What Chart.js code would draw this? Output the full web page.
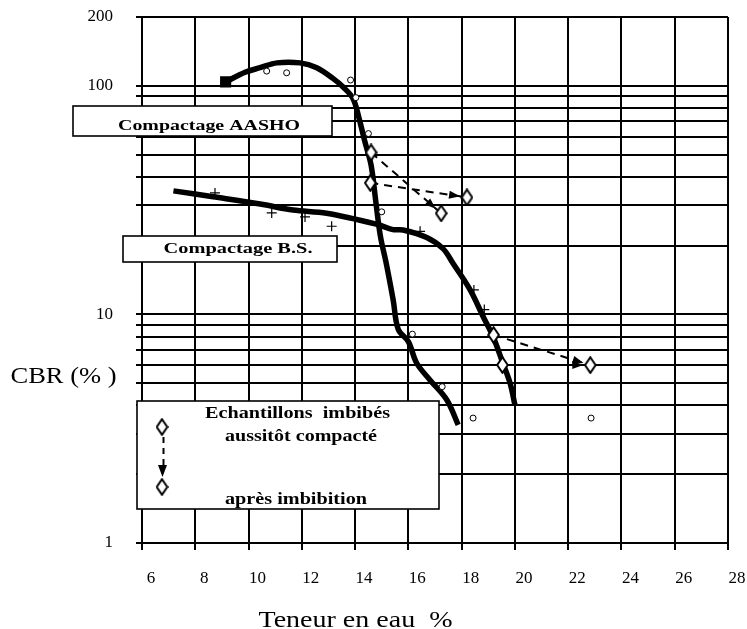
<!DOCTYPE html>
<html><head><meta charset="utf-8">
<script src="https://cdn.jsdelivr.net/npm/chart.js@4.4.1/dist/chart.umd.min.js"></script>
<style>html,body{margin:0;padding:0;background:#fff}#wrap{width:747px;height:629px;position:relative}</style>
</head><body><div id="wrap"><canvas id="c" width="747" height="629"></canvas></div>
<script>
// ---------- data ----------
const xTickValues = [6, 8, 10, 12, 14, 16, 18, 20, 22, 24, 26, 28];
const yTickValues = [1, 2, 3, 4, 5, 6, 7, 8, 9, 10, 20, 30, 40, 50, 60, 70, 80, 90, 100, 200];
const yTickLabels = [1, 10, 100, 200];

// Compactage AASHO : fitted curve
const aashoW   = [9.14, 9.87, 10.43, 11.07, 11.93, 12.56, 13.18, 13.55, 13.92, 14.15, 14.35, 14.6, 14.78, 14.95, 15.18, 15.43, 15.62, 16.0, 16.31, 16.81, 17.44, 17.87];
const aashoCBR = [104, 114.6, 120, 126, 126, 120, 107.5, 98.8, 88, 72, 58, 45, 31, 22, 16.5, 11.56, 8.6, 7.6, 6.13, 5.17, 4.23, 3.29];
// Compactage AASHO : measured points (circles)
const aashoPtW   = [10.68, 11.43, 13.83, 14.03, 14.5, 15.0, 16.15, 17.27, 18.43, 22.86];
const aashoPtCBR = [116, 114, 106, 88.8, 61.8, 28.1, 8.2, 4.83, 3.52, 3.52];

// Compactage B.S. : fitted curve
const bsW   = [7.18, 8.67, 10.44, 11.67, 12.93, 14.81, 15.42, 15.80, 16.69, 17.30, 17.68, 18.32, 18.81, 19.18, 19.55, 19.82, 20.0];
const bsCBR = [34.7, 32.7, 30.4, 28.6, 27.7, 24.8, 23.5, 23.4, 21.7, 19.4, 16.7, 12.8, 9.77, 8.0, 6.11, 5.0, 4.02];
// Compactage B.S. : measured points (crosses)
const bsPtW   = [8.74, 10.87, 12.12, 13.12, 16.44, 18.46, 18.85];
const bsPtCBR = [34.0, 27.8, 26.7, 24.3, 23.1, 12.8, 10.5];

// Echantillons imbibés : aussitôt compacté / après imbibition
const imbBeforeW   = [14.6, 14.57, 19.2, 19.53];
const imbBeforeCBR = [51.1, 37.6, 8.13, 6.01];
const imbAfterW    = [17.23, 18.2, 22.83];
const imbAfterCBR  = [27.7, 32.5, 6.0];
// arrows: [index in "before", index in "after"]
const arrowPairs = [[0, 0], [1, 1], [2, 2], [3, 2]];

// ---------- helpers ----------
const zip = (xs, ys) => xs.map((x, i) => ({x: x, y: ys[i]}));

function makeDiamond() {
  const c = document.createElement('canvas');
  c.width = 13; c.height = 18;
  const g = c.getContext('2d');
  g.beginPath();
  g.moveTo(6.5, 1.2); g.lineTo(11.8, 9); g.lineTo(6.5, 16.8); g.lineTo(1.2, 9); g.closePath();
  g.fillStyle = '#fff'; g.fill();
  g.lineWidth = 2; g.strokeStyle = '#000'; g.stroke();
  return c;
}
const diamond = makeDiamond();

function stretchText(ctx, text, cx, baseline, font, targetW) {
  ctx.save();
  ctx.font = font;
  const w = ctx.measureText(text).width;
  ctx.translate(cx, baseline);
  ctx.scale(targetW / w, 1);
  ctx.textAlign = 'center';
  ctx.textBaseline = 'alphabetic';
  ctx.fillStyle = '#000';
  ctx.fillText(text, 0, 0);
  ctx.restore();
}
function box(ctx, x0, y0, x1, y1) {
  ctx.save();
  ctx.fillStyle = '#fff';
  ctx.fillRect(x0, y0, x1 - x0, y1 - y0);
  ctx.lineWidth = 1.6;
  ctx.strokeStyle = '#000';
  ctx.strokeRect(x0, y0, x1 - x0, y1 - y0);
  ctx.restore();
}
function arrowHead(ctx, tx, ty, dx, dy, len, half) {
  const L = Math.hypot(dx, dy); const ux = dx / L, uy = dy / L;
  ctx.beginPath();
  ctx.moveTo(tx, ty);
  ctx.lineTo(tx - ux * len - uy * half, ty - uy * len + ux * half);
  ctx.lineTo(tx - ux * len + uy * half, ty - uy * len - ux * half);
  ctx.closePath();
  ctx.fillStyle = '#000';
  ctx.fill();
}

const serif = "'Liberation Serif', 'Times New Roman', serif";

const annotations = {
  id: 'annotations',
  afterDatasetsDraw(chart) {
    const ctx = chart.ctx;
    const xs = chart.scales.x, ys = chart.scales.y;
    // arrowheads of dashed arrows
    arrowPairs.forEach(([a, b]) => {
      const x1 = xs.getPixelForValue(imbBeforeW[a]), y1 = ys.getPixelForValue(imbBeforeCBR[a]);
      const x2 = xs.getPixelForValue(imbAfterW[b]), y2 = ys.getPixelForValue(imbAfterCBR[b]);
      const dx = x2 - x1, dy = y2 - y1, L = Math.hypot(dx, dy);
      const tx = x2 - dx / L * 7, ty = y2 - dy / L * 7;
      arrowHead(ctx, tx, ty, dx, dy, 11, 4);
    });
    // label boxes
    box(ctx, 73, 106, 332, 136);
    stretchText(ctx, 'Compactage AASHO', 209, 129.5, 'bold 15px ' + serif, 182);
    box(ctx, 123, 236, 337, 262);
    stretchText(ctx, 'Compactage B.S.', 238, 252.5, 'bold 15px ' + serif, 149);
    // legend box
    box(ctx, 137, 401, 439, 509);
    stretchText(ctx, 'Echantillons  imbibés', 297.5, 417.5, 'bold 16px ' + serif, 185);
    stretchText(ctx, 'aussitôt compacté', 301, 441, 'bold 16px ' + serif, 152);
    stretchText(ctx, 'après imbibition', 296, 503.5, 'bold 16px ' + serif, 142);
    ctx.drawImage(diamond, 162 - diamond.width / 2, 427 - diamond.height / 2);
    ctx.drawImage(diamond, 162 - diamond.width / 2, 487 - diamond.height / 2);
    ctx.save();
    ctx.setLineDash([6, 5]); ctx.lineWidth = 2; ctx.strokeStyle = '#000';
    ctx.beginPath(); ctx.moveTo(163.5, 437); ctx.lineTo(163.5, 466); ctx.stroke();
    ctx.restore();
    arrowHead(ctx, 162.5, 477, 0, 1, 12, 4.5);
    // axis titles
    stretchText(ctx, 'CBR (% )', 63.5, 382.7, '24px ' + serif, 106);
    stretchText(ctx, 'Teneur en eau  %', 355.5, 627, '24px ' + serif, 194);
  }
};

// ---------- datasets ----------
const datasets = [];
datasets.push({
  label: 'imbibé (aussitôt compacté)', data: zip(imbBeforeW, imbBeforeCBR),
  showLine: false, pointStyle: diamond, pointRadius: 6, order: 0
});
datasets.push({
  label: 'imbibé (après imbibition)', data: zip(imbAfterW, imbAfterCBR),
  showLine: false, pointStyle: diamond, pointRadius: 6, order: 0
});
arrowPairs.forEach(([a, b], i) => {
  datasets.push({
    label: 'flèche ' + (i + 1),
    data: [{x: imbBeforeW[a], y: imbBeforeCBR[a]}, {x: imbAfterW[b], y: imbAfterCBR[b]}],
    showLine: true, borderColor: '#000', borderWidth: 2, borderDash: [8, 6],
    pointRadius: 0, order: 1
  });
});
datasets.push({
  label: 'AASHO points', data: zip(aashoPtW, aashoPtCBR), showLine: false,
  pointStyle: 'circle', pointRadius: 3, borderWidth: 1, borderColor: '#000',
  backgroundColor: '#fff', order: 2
});
datasets.push({
  label: 'B.S. points', data: zip(bsPtW, bsPtCBR), showLine: false,
  pointStyle: 'cross', pointRadius: 5, borderWidth: 1.2, borderColor: '#000', order: 2
});
datasets.push({
  label: 'Compactage AASHO', data: zip(aashoW, aashoCBR), showLine: true,
  borderColor: '#000', borderWidth: 5.5, tension: 0.35,
  pointRadius: aashoW.map((_, i) => i === 0 ? 4 : 0), pointStyle: 'rect',
  backgroundColor: '#000', borderJoinStyle: 'round', order: 3
});
datasets.push({
  label: 'Compactage B.S.', data: zip(bsW, bsCBR), showLine: true,
  borderColor: '#000', borderWidth: 5.5, tension: 0.35,
  pointRadius: 0, borderJoinStyle: 'round', order: 3
});

new Chart(document.getElementById('c'), {
  type: 'scatter',
  data: {datasets: datasets},
  options: {
    responsive: false,
    animation: false,
    devicePixelRatio: 1,
    layout: {padding: {top: 17, right: 19, left: 0, bottom: 0}},
    plugins: {legend: {display: false}, tooltip: {enabled: false}},
    scales: {
      x: {
        type: 'linear', min: 6, max: 28,
        afterBuildTicks: s => { s.ticks = xTickValues.map(v => ({value: v})); },
        afterFit: s => { s.height = 86; s.paddingLeft = 0; s.paddingRight = 0; s.paddingTop = 0; s.paddingBottom = 0; },
        grid: {color: '#000', lineWidth: 2, drawTicks: true, tickLength: 7, tickColor: '#000', tickWidth: 2},
        border: {display: true, color: '#000', width: 2},
        ticks: {color: '#000', font: {family: serif, size: 17}, padding: 18, labelOffset: 9, maxRotation: 0, autoSkip: false}
      },
      y: {
        type: 'logarithmic', min: 1, max: 200,
        afterBuildTicks: s => { s.ticks = yTickValues.map(v => ({value: v})); },
        afterFit: s => { s.width = 142; s.paddingTop = 0; s.paddingBottom = 0; s.paddingLeft = 0; s.paddingRight = 0; },
        grid: {color: '#000', lineWidth: 2, drawTicks: true, tickLength: 6, tickColor: '#000', tickWidth: 2},
        border: {display: true, color: '#000', width: 2},
        ticks: {
          color: '#000', font: {family: serif, size: 17}, padding: 23, autoSkip: false,
          callback: v => yTickLabels.includes(v) ? String(v) : ''
        }
      }
    }
  },
  plugins: [annotations]
});
</script>
</body></html>
